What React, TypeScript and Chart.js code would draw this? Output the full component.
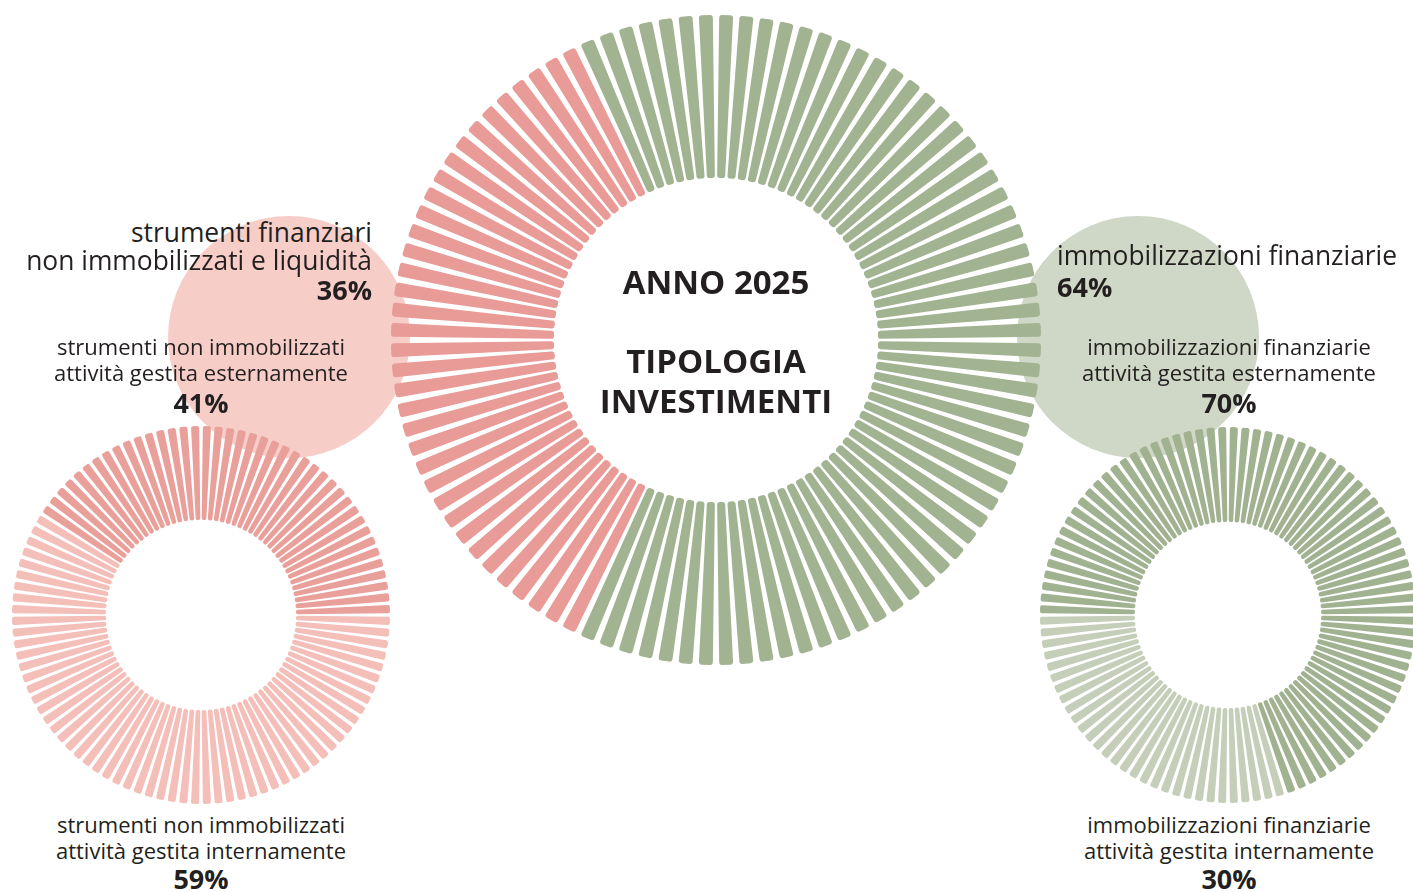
import React, { useEffect, useRef } from 'react';
import { Chart, registerables } from 'chart.js';

Chart.register(...registerables);

// ---- Data ----
const bigCategories = ['immobilizzazioni finanziarie', 'strumenti finanziari non immobilizzati e liquidità'];
const bigValues = [64, 36];
const bigColors = ['#A2B392', '#E89B97'];

const leftCategories = ['attività gestita internamente', 'attività gestita esternamente'];
const leftValues = [59, 41];
const leftColors = ['#F4BEB9', '#E9A09B'];

const rightCategories = ['attività gestita esternamente', 'attività gestita internamente'];
const rightValues = [70, 30];
const rightColors = ['#A1B291', '#C5CEB8'];

const FONT = '"Open Sans", "Noto Sans", sans-serif';
const INK = '#231F20';

// expand percentages into unit bars (1 bar = 1%)
function expand(categories: string[], values: number[], colors: string[]) {
  const labels: string[] = [];
  const data: number[] = [];
  const bg: string[] = [];
  values.forEach((v, i) => {
    for (let k = 0; k < v; k++) {
      labels.push(categories[i]);
      data.push(1);
      bg.push(colors[i]);
    }
  });
  return { labels, data, bg };
}

function makeBarPlugin(gapOuter: number, gapInner: number, corner: number) {
  return {
    id: 'radialBars',
    beforeDatasetDraw(chart: any, args: any) {
      const ctx = chart.ctx as CanvasRenderingContext2D;
      args.meta.data.forEach((el: any) => {
        const { x, y, startAngle, endAngle, innerRadius, outerRadius } = el;
        const span = endAngle - startAngle;
        const a = (startAngle + endAngle) / 2;
        const ho = Math.max(0.5, (outerRadius * span - gapOuter) / 2);
        const hi = Math.max(0.5, (innerRadius * span - gapInner) / 2);
        const r = Math.min(corner, hi);
        ctx.save();
        ctx.translate(x, y);
        ctx.rotate(a);
        ctx.beginPath();
        ctx.moveTo((innerRadius + outerRadius) / 2, -(hi + ho) / 2);
        ctx.arcTo(outerRadius, -ho, outerRadius, ho, r);
        ctx.arcTo(outerRadius, ho, innerRadius, hi, r);
        ctx.arcTo(innerRadius, hi, innerRadius, -hi, r);
        ctx.arcTo(innerRadius, -hi, outerRadius, -ho, r);
        ctx.closePath();
        ctx.fillStyle = el.options.backgroundColor;
        ctx.fill();
        ctx.restore();
      });
      return false;
    },
  };
}

type DonutProps = {
  categories: string[];
  values: number[];
  colors: string[];
  rotation: number;
  cutout: number;
  size: number;
  left: number;
  top: number;
  gapOuter: number;
  gapInner: number;
  corner: number;
};

function Donut(p: DonutProps) {
  const ref = useRef<HTMLCanvasElement>(null);
  useEffect(() => {
    if (!ref.current) return;
    const u = expand(p.categories, p.values, p.colors);
    const chart = new Chart(ref.current, {
      type: 'doughnut',
      data: {
        labels: u.labels,
        datasets: [
          {
            data: u.data,
            backgroundColor: u.bg,
            borderWidth: 0,
            hoverOffset: 0,
            offset: 0,
            spacing: 0,
          } as any,
        ],
      },
      options: {
        responsive: false,
        animation: false,
        events: [],
        cutout: p.cutout,
        rotation: p.rotation,
        circumference: 360,
        layout: { padding: 0 },
        plugins: { legend: { display: false }, tooltip: { enabled: false } },
      } as any,
      plugins: [makeBarPlugin(p.gapOuter, p.gapInner, p.corner) as any],
    });
    return () => chart.destroy();
  }, []);
  return (
    <canvas
      ref={ref}
      width={p.size}
      height={p.size}
      style={{ position: 'absolute', left: p.left, top: p.top, width: p.size, height: p.size }}
    />
  );
}

type LineProps = { x: number; baseline: number; size: number; bold?: boolean; align: 'left' | 'center' | 'right'; text: string };

function Line({ x, baseline, size, bold, align, text }: LineProps) {
  const W = 700;
  const left = align === 'left' ? x : align === 'center' ? x - W / 2 : x - W;
  return (
    <div
      style={{
        position: 'absolute',
        left,
        top: baseline - 0.888 * size,
        width: W,
        textAlign: align,
        fontFamily: FONT,
        fontSize: size,
        lineHeight: `${size}px`,
        fontWeight: bold ? 700 : 400,
        color: INK,
        whiteSpace: 'nowrap',
      }}
    >
      {text}
    </div>
  );
}

function Circle({ cx, cy, r, color }: { cx: number; cy: number; r: number; color: string }) {
  return (
    <div
      style={{
        position: 'absolute',
        left: cx - r,
        top: cy - r,
        width: 2 * r,
        height: 2 * r,
        borderRadius: '50%',
        background: color,
      }}
    />
  );
}

export default function App() {
  const L = 22;
  const B = 26.4;
  const P = 27;
  return (
    <div
      style={{
        position: 'absolute',
        left: 0,
        top: 0,
        width: 1413,
        height: 892,
        overflow: 'hidden',
        background: '#ffffff',
      }}
    >
      <Circle cx={289} cy={337} r={121} color="#F7CDC7" />
      <Circle cx={1138} cy={337} r={121} color="#CFD7C6" />

      <Donut
        categories={bigCategories}
        values={bigValues}
        colors={bigColors}
        rotation={-25.2}
        cutout={162}
        size={650}
        left={391}
        top={15}
        gapOuter={6.4}
        gapInner={2.2}
        corner={3}
      />
      <Donut
        categories={leftCategories}
        values={leftValues}
        colors={leftColors}
        rotation={90}
        cutout={95}
        size={378}
        left={12}
        top={426}
        gapOuter={3.7}
        gapInner={1.4}
        corner={2}
      />
      <Donut
        categories={rightCategories}
        values={rightValues}
        colors={rightColors}
        rotation={270}
        cutout={93}
        size={376}
        left={1040}
        top={427}
        gapOuter={3.7}
        gapInner={1.4}
        corner={2}
      />

      {/* center title */}
      <Line x={716} baseline={294} size={33} bold align="center" text="ANNO 2025" />
      <Line x={716} baseline={373} size={33} bold align="center" text="TIPOLOGIA" />
      <Line x={716} baseline={413} size={33} bold align="center" text="INVESTIMENTI" />

      {/* top-left */}
      <Line x={372} baseline={242} size={B} align="right" text="strumenti finanziari" />
      <Line x={372} baseline={270} size={B} align="right" text="non immobilizzati e liquidità" />
      <Line x={372} baseline={300} size={P} bold align="right" text="36%" />

      {/* left mid */}
      <Line x={201} baseline={355} size={L} align="center" text="strumenti non immobilizzati" />
      <Line x={201} baseline={381} size={L} align="center" text="attività gestita esternamente" />
      <Line x={201} baseline={413} size={P} bold align="center" text="41%" />

      {/* top-right */}
      <Line x={1057} baseline={265} size={B} align="left" text="immobilizzazioni finanziarie" />
      <Line x={1057} baseline={297} size={P} bold align="left" text="64%" />

      {/* right mid */}
      <Line x={1229} baseline={355} size={L} align="center" text="immobilizzazioni finanziarie" />
      <Line x={1229} baseline={381} size={L} align="center" text="attività gestita esternamente" />
      <Line x={1229} baseline={413} size={P} bold align="center" text="70%" />

      {/* bottom-left */}
      <Line x={201} baseline={833} size={L} align="center" text="strumenti non immobilizzati" />
      <Line x={201} baseline={859} size={L} align="center" text="attività gestita internamente" />
      <Line x={201} baseline={889} size={P} bold align="center" text="59%" />

      {/* bottom-right */}
      <Line x={1229} baseline={833} size={L} align="center" text="immobilizzazioni finanziarie" />
      <Line x={1229} baseline={859} size={L} align="center" text="attività gestita internamente" />
      <Line x={1229} baseline={889} size={P} bold align="center" text="30%" />
    </div>
  );
}
